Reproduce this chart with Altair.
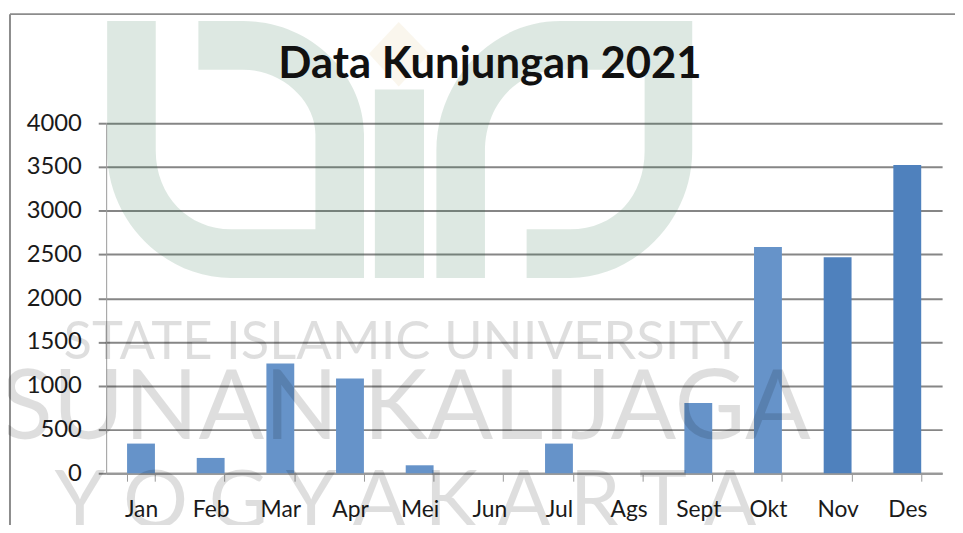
import altair as alt
import pandas as pd

months = ["Jan", "Feb", "Mar", "Apr", "Mei", "Jun", "Jul", "Ags", "Sept", "Okt", "Nov", "Des"]
visits = [339, 175, 1254, 1082, 91, 0, 339, 0, 803, 2586, 2469, 3523]
dark_months = ["Nov", "Des"]
y_ticks = [0, 500, 1000, 1500, 2000, 2500, 3000, 3500, 4000]
title_text = "Data Kunjungan 2021"
gap = "\u00a0"
wm_lines = ["STATE ISLAMIC UNIVERSITY", "SUNAN KALIJAGA", gap.join("YOGYAKARTA")]

OX, OY = 107, 122  # page position of the plot origin
W, H = 843, 353
FONT = "Lato"
GRID = "#868686"

df = pd.DataFrame({"bulan": months, "kunjungan": visits})
one = alt.Data(values=[{"a": 1}])

bars = alt.Chart(df).mark_bar().encode(
    x=alt.X("bulan:N", sort=months, title=None,
            scale=alt.Scale(paddingInner=0.6, paddingOuter=0.3),
            axis=alt.Axis(labelAngle=0, grid=False, tickBand="extent", tickSize=8,
                          tickColor="#999999", tickWidth=1, domainColor="#999999", domainWidth=2,
                          labelFontSize=23, labelFont=FONT, labelColor="#1a1a1a", labelPadding=18)),
    y=alt.Y("kunjungan:Q", title=None,
            scale=alt.Scale(domain=[0, 4000], nice=False),
            axis=alt.Axis(values=y_ticks, format="d", gridColor=GRID, gridWidth=2, tickColor=GRID, tickWidth=2,
                          tickSize=8, domainColor="#999999", domainWidth=1,
                          labelFontSize=24, labelFont=FONT, labelColor="#1a1a1a", labelPadding=17)),
    color=alt.condition(alt.FieldOneOfPredicate("bulan", dark_months),
                        alt.value("#4f81bd"), alt.value("#6693c9")),
)


def shape(path, fill, opacity):
    return alt.Chart(one).mark_point(shape=path, size=4, filled=True, fill=fill, fillOpacity=opacity,
                                     opacity=1, strokeWidth=0).encode(
        x=alt.value(-OX), y=alt.value(-OY))


def text_at(text, x, y, size, font, fill="#000000", alpha=0.13, weight="normal", align="left"):
    return alt.Chart(one).mark_text(align=align, baseline="alphabetic", fontSize=size, font=font,
                                    fill=fill, fillOpacity=alpha, fontWeight=weight).encode(
        x=alt.value(x - OX), y=alt.value(y - OY), text=alt.value(text))


def frame(x, x2, y, y2):
    return alt.Chart(one).mark_rule(color="#8c8c8c", strokeWidth=2).encode(
        x=alt.value(x - OX), x2=alt.value(x2 - OX), y=alt.value(y - OY), y2=alt.value(y2 - OY))


LOGO_U = ("M108 19 L157 19 L157 150 C157 195 190 229 233 229 L318 229 L318 133 "
          "C318 100 285 68 245 68 L200 68 L200 19 L245 19 C315 19 367 75 367 133 "
          "L367 278 L233 278 C165 278 108 220 108 150 Z")
LOGO_I = "M378 88 L427.5 88 L427.5 278 L378 278 Z"
LOGO_R = ("M440 278 L440 150 C440 80 495 19 565 19 L698 19 L698 150 C698 220 640 278 575 278 "
          "L531 278 L531 229 L575 229 C620 229 650 195 650 150 L650 68 L565 68 "
          "C520 68 489 105 489 150 L489 278 Z")
DIAMOND = "M402 20 L433 52 L402 85 L372 52 Z"

chart = alt.layer(
    bars,
    frame(10, 10, 12, 533),
    frame(10, 963, 12, 12),
    shape(DIAMOND, "#d9b36c", 0.12),
    shape(LOGO_U, "#1c663e", 0.15),
    shape(LOGO_I, "#1c663e", 0.15),
    shape(LOGO_R, "#1c663e", 0.15),
    text_at(wm_lines[0], 64, 360, 53, FONT),
    text_at(wm_lines[1], 0, 440, 98, FONT),
    text_at(wm_lines[2], 55, 530, 82, FONT),
    text_at(title_text, 494, 76, 44, FONT, fill="#111111", alpha=1, weight="bold", align="center"),
).properties(
    width=W,
    height=H,
    padding={"left": OX - 8, "top": OY - 8, "right": 955 - W - (OX - 8), "bottom": 517 - H - (OY - 8)},
    autosize=alt.AutoSizeParams(type="none"),
    background="#ffffff",
).configure_view(stroke=None)

chart.save("out.html", embed_options={"renderer": "svg", "actions": False})
